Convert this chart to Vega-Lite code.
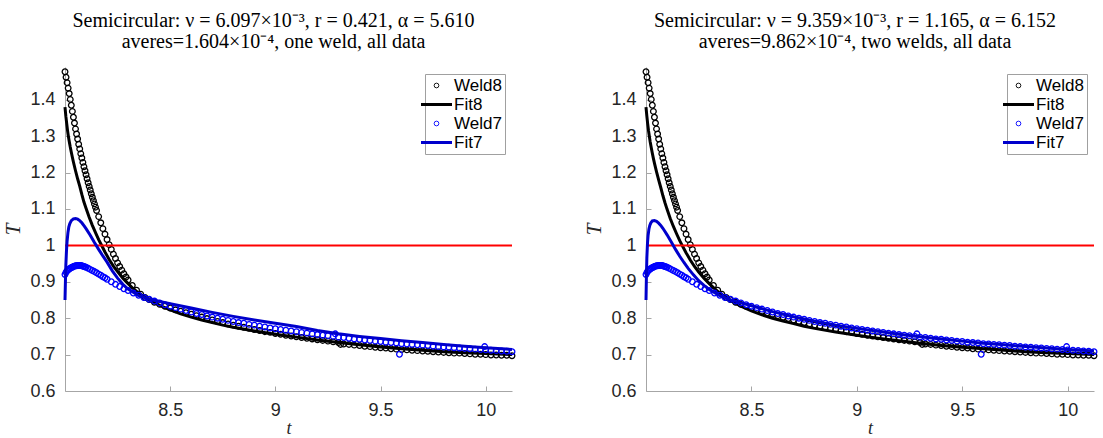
{
"$schema": "https://vega.github.io/schema/vega-lite/v6.json",
"padding": {"left": 2, "top": 11, "right": 0, "bottom": 0},
"spacing": 65,
"datasets": {
"weld": [
{"series":"Weld8","t":8.000,"T":1.477},{"series":"Weld8","t":8.005,"T":1.462},{"series":"Weld8","t":8.010,"T":1.447},{"series":"Weld8","t":8.015,"T":1.432},{"series":"Weld8","t":8.020,"T":1.417},{"series":"Weld8","t":8.025,"T":1.401},{"series":"Weld8","t":8.030,"T":1.385},{"series":"Weld8","t":8.035,"T":1.368},{"series":"Weld8","t":8.040,"T":1.352},{"series":"Weld8","t":8.045,"T":1.336},{"series":"Weld8","t":8.050,"T":1.320},{"series":"Weld8","t":8.055,"T":1.306},{"series":"Weld8","t":8.060,"T":1.292},{"series":"Weld8","t":8.065,"T":1.278},{"series":"Weld8","t":8.070,"T":1.265},{"series":"Weld8","t":8.075,"T":1.252},{"series":"Weld8","t":8.080,"T":1.240},{"series":"Weld8","t":8.085,"T":1.228},{"series":"Weld8","t":8.090,"T":1.216},{"series":"Weld8","t":8.095,"T":1.205},{"series":"Weld8","t":8.100,"T":1.194},{"series":"Weld8","t":8.105,"T":1.183},{"series":"Weld8","t":8.110,"T":1.172},{"series":"Weld8","t":8.115,"T":1.162},{"series":"Weld8","t":8.120,"T":1.152},{"series":"Weld8","t":8.125,"T":1.142},{"series":"Weld8","t":8.130,"T":1.132},{"series":"Weld8","t":8.135,"T":1.123},{"series":"Weld8","t":8.140,"T":1.114},{"series":"Weld8","t":8.145,"T":1.105},{"series":"Weld8","t":8.150,"T":1.096},{"series":"Weld8","t":8.160,"T":1.079},{"series":"Weld8","t":8.170,"T":1.062},{"series":"Weld8","t":8.180,"T":1.046},{"series":"Weld8","t":8.190,"T":1.031},{"series":"Weld8","t":8.200,"T":1.016},{"series":"Weld8","t":8.210,"T":1.002},{"series":"Weld8","t":8.220,"T":0.989},{"series":"Weld8","t":8.230,"T":0.976},{"series":"Weld8","t":8.240,"T":0.964},{"series":"Weld8","t":8.250,"T":0.952},{"series":"Weld8","t":8.260,"T":0.942},{"series":"Weld8","t":8.270,"T":0.932},{"series":"Weld8","t":8.280,"T":0.922},{"series":"Weld8","t":8.290,"T":0.913},{"series":"Weld8","t":8.300,"T":0.905},{"series":"Weld8","t":8.320,"T":0.890},{"series":"Weld8","t":8.340,"T":0.877},{"series":"Weld8","t":8.360,"T":0.866},{"series":"Weld8","t":8.380,"T":0.857},{"series":"Weld8","t":8.400,"T":0.851},{"series":"Weld8","t":8.425,"T":0.844},{"series":"Weld8","t":8.450,"T":0.838},{"series":"Weld8","t":8.475,"T":0.833},{"series":"Weld8","t":8.500,"T":0.828},{"series":"Weld8","t":8.525,"T":0.823},{"series":"Weld8","t":8.550,"T":0.819},{"series":"Weld8","t":8.575,"T":0.815},{"series":"Weld8","t":8.600,"T":0.811},{"series":"Weld8","t":8.625,"T":0.807},{"series":"Weld8","t":8.650,"T":0.803},{"series":"Weld8","t":8.675,"T":0.799},{"series":"Weld8","t":8.700,"T":0.795},{"series":"Weld8","t":8.725,"T":0.791},{"series":"Weld8","t":8.750,"T":0.788},{"series":"Weld8","t":8.775,"T":0.784},{"series":"Weld8","t":8.800,"T":0.781},{"series":"Weld8","t":8.825,"T":0.778},{"series":"Weld8","t":8.850,"T":0.775},{"series":"Weld8","t":8.875,"T":0.772},{"series":"Weld8","t":8.900,"T":0.769},{"series":"Weld8","t":8.925,"T":0.766},{"series":"Weld8","t":8.950,"T":0.763},{"series":"Weld8","t":8.975,"T":0.761},{"series":"Weld8","t":9.000,"T":0.758},{"series":"Weld8","t":9.025,"T":0.756},{"series":"Weld8","t":9.050,"T":0.753},{"series":"Weld8","t":9.075,"T":0.751},{"series":"Weld8","t":9.100,"T":0.749},{"series":"Weld8","t":9.125,"T":0.747},{"series":"Weld8","t":9.150,"T":0.745},{"series":"Weld8","t":9.175,"T":0.743},{"series":"Weld8","t":9.200,"T":0.741},{"series":"Weld8","t":9.225,"T":0.739},{"series":"Weld8","t":9.250,"T":0.737},{"series":"Weld8","t":9.275,"T":0.735},{"series":"Weld8","t":9.300,"T":0.733},{"series":"Weld8","t":9.310,"T":0.728},{"series":"Weld8","t":9.325,"T":0.729},{"series":"Weld8","t":9.350,"T":0.728},{"series":"Weld8","t":9.375,"T":0.726},{"series":"Weld8","t":9.400,"T":0.725},{"series":"Weld8","t":9.425,"T":0.723},{"series":"Weld8","t":9.450,"T":0.722},{"series":"Weld8","t":9.475,"T":0.720},{"series":"Weld8","t":9.500,"T":0.719},{"series":"Weld8","t":9.525,"T":0.718},{"series":"Weld8","t":9.550,"T":0.716},{"series":"Weld8","t":9.575,"T":0.715},{"series":"Weld8","t":9.600,"T":0.714},{"series":"Weld8","t":9.625,"T":0.713},{"series":"Weld8","t":9.650,"T":0.712},{"series":"Weld8","t":9.675,"T":0.711},{"series":"Weld8","t":9.700,"T":0.710},{"series":"Weld8","t":9.725,"T":0.709},{"series":"Weld8","t":9.750,"T":0.708},{"series":"Weld8","t":9.775,"T":0.707},{"series":"Weld8","t":9.800,"T":0.706},{"series":"Weld8","t":9.825,"T":0.705},{"series":"Weld8","t":9.850,"T":0.704},{"series":"Weld8","t":9.875,"T":0.704},{"series":"Weld8","t":9.900,"T":0.703},{"series":"Weld8","t":9.925,"T":0.702},{"series":"Weld8","t":9.950,"T":0.701},{"series":"Weld8","t":9.975,"T":0.701},{"series":"Weld8","t":10.000,"T":0.700},{"series":"Weld8","t":10.025,"T":0.699},{"series":"Weld8","t":10.050,"T":0.699},{"series":"Weld8","t":10.075,"T":0.698},{"series":"Weld8","t":10.100,"T":0.698},{"series":"Weld8","t":10.125,"T":0.697},
{"series":"Weld7","t":8.000,"T":0.920},{"series":"Weld7","t":8.005,"T":0.926},{"series":"Weld7","t":8.010,"T":0.930},{"series":"Weld7","t":8.015,"T":0.933},{"series":"Weld7","t":8.020,"T":0.935},{"series":"Weld7","t":8.025,"T":0.937},{"series":"Weld7","t":8.030,"T":0.939},{"series":"Weld7","t":8.035,"T":0.940},{"series":"Weld7","t":8.040,"T":0.942},{"series":"Weld7","t":8.045,"T":0.943},{"series":"Weld7","t":8.050,"T":0.944},{"series":"Weld7","t":8.055,"T":0.944},{"series":"Weld7","t":8.060,"T":0.945},{"series":"Weld7","t":8.065,"T":0.945},{"series":"Weld7","t":8.070,"T":0.945},{"series":"Weld7","t":8.075,"T":0.945},{"series":"Weld7","t":8.080,"T":0.944},{"series":"Weld7","t":8.085,"T":0.943},{"series":"Weld7","t":8.090,"T":0.942},{"series":"Weld7","t":8.095,"T":0.941},{"series":"Weld7","t":8.100,"T":0.940},{"series":"Weld7","t":8.110,"T":0.937},{"series":"Weld7","t":8.120,"T":0.934},{"series":"Weld7","t":8.130,"T":0.931},{"series":"Weld7","t":8.140,"T":0.928},{"series":"Weld7","t":8.150,"T":0.925},{"series":"Weld7","t":8.160,"T":0.921},{"series":"Weld7","t":8.170,"T":0.918},{"series":"Weld7","t":8.180,"T":0.914},{"series":"Weld7","t":8.190,"T":0.911},{"series":"Weld7","t":8.200,"T":0.907},{"series":"Weld7","t":8.220,"T":0.900},{"series":"Weld7","t":8.240,"T":0.893},{"series":"Weld7","t":8.260,"T":0.887},{"series":"Weld7","t":8.280,"T":0.881},{"series":"Weld7","t":8.300,"T":0.876},{"series":"Weld7","t":8.325,"T":0.869},{"series":"Weld7","t":8.350,"T":0.863},{"series":"Weld7","t":8.375,"T":0.857},{"series":"Weld7","t":8.400,"T":0.852},{"series":"Weld7","t":8.425,"T":0.847},{"series":"Weld7","t":8.450,"T":0.842},{"series":"Weld7","t":8.475,"T":0.837},{"series":"Weld7","t":8.500,"T":0.833},{"series":"Weld7","t":8.525,"T":0.829},{"series":"Weld7","t":8.550,"T":0.825},{"series":"Weld7","t":8.575,"T":0.821},{"series":"Weld7","t":8.600,"T":0.817},{"series":"Weld7","t":8.625,"T":0.813},{"series":"Weld7","t":8.650,"T":0.810},{"series":"Weld7","t":8.675,"T":0.806},{"series":"Weld7","t":8.700,"T":0.803},{"series":"Weld7","t":8.725,"T":0.800},{"series":"Weld7","t":8.750,"T":0.797},{"series":"Weld7","t":8.775,"T":0.794},{"series":"Weld7","t":8.800,"T":0.791},{"series":"Weld7","t":8.825,"T":0.788},{"series":"Weld7","t":8.850,"T":0.786},{"series":"Weld7","t":8.875,"T":0.783},{"series":"Weld7","t":8.900,"T":0.781},{"series":"Weld7","t":8.925,"T":0.778},{"series":"Weld7","t":8.950,"T":0.776},{"series":"Weld7","t":8.975,"T":0.773},{"series":"Weld7","t":9.000,"T":0.771},{"series":"Weld7","t":9.025,"T":0.769},{"series":"Weld7","t":9.050,"T":0.767},{"series":"Weld7","t":9.075,"T":0.765},{"series":"Weld7","t":9.100,"T":0.763},{"series":"Weld7","t":9.125,"T":0.761},{"series":"Weld7","t":9.150,"T":0.759},{"series":"Weld7","t":9.175,"T":0.757},{"series":"Weld7","t":9.200,"T":0.755},{"series":"Weld7","t":9.225,"T":0.753},{"series":"Weld7","t":9.250,"T":0.752},{"series":"Weld7","t":9.275,"T":0.750},{"series":"Weld7","t":9.285,"T":0.757},{"series":"Weld7","t":9.300,"T":0.748},{"series":"Weld7","t":9.325,"T":0.747},{"series":"Weld7","t":9.350,"T":0.745},{"series":"Weld7","t":9.375,"T":0.743},{"series":"Weld7","t":9.400,"T":0.742},{"series":"Weld7","t":9.425,"T":0.740},{"series":"Weld7","t":9.450,"T":0.739},{"series":"Weld7","t":9.475,"T":0.737},{"series":"Weld7","t":9.500,"T":0.736},{"series":"Weld7","t":9.525,"T":0.734},{"series":"Weld7","t":9.550,"T":0.733},{"series":"Weld7","t":9.575,"T":0.732},{"series":"Weld7","t":9.590,"T":0.701},{"series":"Weld7","t":9.600,"T":0.730},{"series":"Weld7","t":9.625,"T":0.729},{"series":"Weld7","t":9.650,"T":0.728},{"series":"Weld7","t":9.675,"T":0.727},{"series":"Weld7","t":9.700,"T":0.726},{"series":"Weld7","t":9.725,"T":0.725},{"series":"Weld7","t":9.750,"T":0.723},{"series":"Weld7","t":9.775,"T":0.722},{"series":"Weld7","t":9.800,"T":0.721},{"series":"Weld7","t":9.825,"T":0.720},{"series":"Weld7","t":9.850,"T":0.719},{"series":"Weld7","t":9.875,"T":0.718},{"series":"Weld7","t":9.900,"T":0.717},{"series":"Weld7","t":9.925,"T":0.716},{"series":"Weld7","t":9.950,"T":0.715},{"series":"Weld7","t":9.975,"T":0.714},{"series":"Weld7","t":9.995,"T":0.722},{"series":"Weld7","t":10.000,"T":0.713},{"series":"Weld7","t":10.025,"T":0.712},{"series":"Weld7","t":10.050,"T":0.711},{"series":"Weld7","t":10.075,"T":0.710},{"series":"Weld7","t":10.100,"T":0.709},{"series":"Weld7","t":10.125,"T":0.708}
],
"fitL": [
{"series":"Fit8","t":8.000,"T":1.380},{"series":"Fit8","t":8.004,"T":1.355},{"series":"Fit8","t":8.008,"T":1.335},{"series":"Fit8","t":8.012,"T":1.316},{"series":"Fit8","t":8.016,"T":1.300},{"series":"Fit8","t":8.020,"T":1.286},{"series":"Fit8","t":8.025,"T":1.270},{"series":"Fit8","t":8.030,"T":1.256},{"series":"Fit8","t":8.035,"T":1.242},{"series":"Fit8","t":8.040,"T":1.229},{"series":"Fit8","t":8.050,"T":1.205},{"series":"Fit8","t":8.060,"T":1.183},{"series":"Fit8","t":8.070,"T":1.163},{"series":"Fit8","t":8.080,"T":1.140},{"series":"Fit8","t":8.090,"T":1.119},{"series":"Fit8","t":8.100,"T":1.102},{"series":"Fit8","t":8.115,"T":1.077},{"series":"Fit8","t":8.130,"T":1.055},{"series":"Fit8","t":8.145,"T":1.035},{"series":"Fit8","t":8.160,"T":1.016},{"series":"Fit8","t":8.175,"T":0.999},{"series":"Fit8","t":8.190,"T":0.982},{"series":"Fit8","t":8.210,"T":0.961},{"series":"Fit8","t":8.230,"T":0.943},{"series":"Fit8","t":8.250,"T":0.928},{"series":"Fit8","t":8.275,"T":0.910},{"series":"Fit8","t":8.300,"T":0.895},{"series":"Fit8","t":8.325,"T":0.881},{"series":"Fit8","t":8.350,"T":0.869},{"series":"Fit8","t":8.400,"T":0.850},{"series":"Fit8","t":8.450,"T":0.835},{"series":"Fit8","t":8.500,"T":0.823},{"series":"Fit8","t":8.550,"T":0.812},{"series":"Fit8","t":8.600,"T":0.803},{"series":"Fit8","t":8.650,"T":0.795},{"series":"Fit8","t":8.700,"T":0.788},{"series":"Fit8","t":8.750,"T":0.781},{"series":"Fit8","t":8.800,"T":0.775},{"series":"Fit8","t":8.900,"T":0.765},{"series":"Fit8","t":9.000,"T":0.756},{"series":"Fit8","t":9.100,"T":0.748},{"series":"Fit8","t":9.200,"T":0.740},{"series":"Fit8","t":9.300,"T":0.733},{"series":"Fit8","t":9.400,"T":0.727},{"series":"Fit8","t":9.500,"T":0.721},{"series":"Fit8","t":9.600,"T":0.716},{"series":"Fit8","t":9.700,"T":0.712},{"series":"Fit8","t":9.800,"T":0.708},{"series":"Fit8","t":9.900,"T":0.705},{"series":"Fit8","t":10.000,"T":0.703},{"series":"Fit8","t":10.125,"T":0.700},
{"series":"Fit7","t":8.000,"T":0.850},{"series":"Fit7","t":8.002,"T":0.900},{"series":"Fit7","t":8.004,"T":0.945},{"series":"Fit7","t":8.007,"T":0.985},{"series":"Fit7","t":8.010,"T":1.012},{"series":"Fit7","t":8.014,"T":1.035},{"series":"Fit7","t":8.018,"T":1.050},{"series":"Fit7","t":8.023,"T":1.060},{"series":"Fit7","t":8.030,"T":1.068},{"series":"Fit7","t":8.040,"T":1.073},{"series":"Fit7","t":8.050,"T":1.074},{"series":"Fit7","t":8.060,"T":1.072},{"series":"Fit7","t":8.070,"T":1.068},{"series":"Fit7","t":8.080,"T":1.062},{"series":"Fit7","t":8.090,"T":1.054},{"series":"Fit7","t":8.100,"T":1.046},{"series":"Fit7","t":8.120,"T":1.028},{"series":"Fit7","t":8.140,"T":1.008},{"series":"Fit7","t":8.160,"T":0.989},{"series":"Fit7","t":8.180,"T":0.971},{"series":"Fit7","t":8.200,"T":0.954},{"series":"Fit7","t":8.225,"T":0.930},{"series":"Fit7","t":8.250,"T":0.910},{"series":"Fit7","t":8.275,"T":0.893},{"series":"Fit7","t":8.300,"T":0.880},{"series":"Fit7","t":8.350,"T":0.862},{"series":"Fit7","t":8.400,"T":0.852},{"series":"Fit7","t":8.450,"T":0.846},{"series":"Fit7","t":8.500,"T":0.840},{"series":"Fit7","t":8.600,"T":0.828},{"series":"Fit7","t":8.700,"T":0.816},{"series":"Fit7","t":8.800,"T":0.805},{"series":"Fit7","t":8.900,"T":0.795},{"series":"Fit7","t":9.000,"T":0.786},{"series":"Fit7","t":9.100,"T":0.777},{"series":"Fit7","t":9.200,"T":0.766},{"series":"Fit7","t":9.300,"T":0.757},{"series":"Fit7","t":9.400,"T":0.750},{"series":"Fit7","t":9.500,"T":0.744},{"series":"Fit7","t":9.600,"T":0.738},{"series":"Fit7","t":9.700,"T":0.733},{"series":"Fit7","t":9.800,"T":0.728},{"series":"Fit7","t":9.900,"T":0.723},{"series":"Fit7","t":10.000,"T":0.719},{"series":"Fit7","t":10.125,"T":0.714}
],
"fitR": [
{"series":"Fit8","t":8.000,"T":1.380},{"series":"Fit8","t":8.004,"T":1.355},{"series":"Fit8","t":8.008,"T":1.334},{"series":"Fit8","t":8.012,"T":1.315},{"series":"Fit8","t":8.016,"T":1.299},{"series":"Fit8","t":8.020,"T":1.284},{"series":"Fit8","t":8.025,"T":1.268},{"series":"Fit8","t":8.030,"T":1.253},{"series":"Fit8","t":8.035,"T":1.239},{"series":"Fit8","t":8.040,"T":1.226},{"series":"Fit8","t":8.050,"T":1.202},{"series":"Fit8","t":8.060,"T":1.180},{"series":"Fit8","t":8.070,"T":1.159},{"series":"Fit8","t":8.080,"T":1.137},{"series":"Fit8","t":8.090,"T":1.117},{"series":"Fit8","t":8.100,"T":1.099},{"series":"Fit8","t":8.115,"T":1.074},{"series":"Fit8","t":8.130,"T":1.052},{"series":"Fit8","t":8.145,"T":1.032},{"series":"Fit8","t":8.160,"T":1.013},{"series":"Fit8","t":8.175,"T":0.996},{"series":"Fit8","t":8.190,"T":0.980},{"series":"Fit8","t":8.210,"T":0.960},{"series":"Fit8","t":8.230,"T":0.942},{"series":"Fit8","t":8.250,"T":0.927},{"series":"Fit8","t":8.275,"T":0.910},{"series":"Fit8","t":8.300,"T":0.895},{"series":"Fit8","t":8.325,"T":0.881},{"series":"Fit8","t":8.350,"T":0.869},{"series":"Fit8","t":8.400,"T":0.849},{"series":"Fit8","t":8.450,"T":0.833},{"series":"Fit8","t":8.500,"T":0.820},{"series":"Fit8","t":8.550,"T":0.809},{"series":"Fit8","t":8.600,"T":0.800},{"series":"Fit8","t":8.650,"T":0.792},{"series":"Fit8","t":8.700,"T":0.785},{"series":"Fit8","t":8.750,"T":0.778},{"series":"Fit8","t":8.800,"T":0.772},{"series":"Fit8","t":8.900,"T":0.762},{"series":"Fit8","t":9.000,"T":0.753},{"series":"Fit8","t":9.100,"T":0.745},{"series":"Fit8","t":9.200,"T":0.738},{"series":"Fit8","t":9.300,"T":0.731},{"series":"Fit8","t":9.400,"T":0.725},{"series":"Fit8","t":9.500,"T":0.720},{"series":"Fit8","t":9.600,"T":0.716},{"series":"Fit8","t":9.700,"T":0.712},{"series":"Fit8","t":9.800,"T":0.708},{"series":"Fit8","t":9.900,"T":0.705},{"series":"Fit8","t":10.000,"T":0.703},{"series":"Fit8","t":10.125,"T":0.700},
{"series":"Fit7","t":8.000,"T":0.850},{"series":"Fit7","t":8.002,"T":0.915},{"series":"Fit7","t":8.004,"T":0.965},{"series":"Fit7","t":8.007,"T":1.005},{"series":"Fit7","t":8.010,"T":1.028},{"series":"Fit7","t":8.014,"T":1.045},{"series":"Fit7","t":8.018,"T":1.055},{"series":"Fit7","t":8.023,"T":1.062},{"series":"Fit7","t":8.030,"T":1.067},{"series":"Fit7","t":8.040,"T":1.068},{"series":"Fit7","t":8.050,"T":1.066},{"series":"Fit7","t":8.060,"T":1.061},{"series":"Fit7","t":8.070,"T":1.055},{"series":"Fit7","t":8.080,"T":1.047},{"series":"Fit7","t":8.090,"T":1.038},{"series":"Fit7","t":8.100,"T":1.029},{"series":"Fit7","t":8.120,"T":1.009},{"series":"Fit7","t":8.140,"T":0.989},{"series":"Fit7","t":8.160,"T":0.970},{"series":"Fit7","t":8.180,"T":0.953},{"series":"Fit7","t":8.200,"T":0.937},{"series":"Fit7","t":8.225,"T":0.919},{"series":"Fit7","t":8.250,"T":0.903},{"series":"Fit7","t":8.275,"T":0.890},{"series":"Fit7","t":8.300,"T":0.879},{"series":"Fit7","t":8.350,"T":0.862},{"series":"Fit7","t":8.400,"T":0.851},{"series":"Fit7","t":8.450,"T":0.842},{"series":"Fit7","t":8.500,"T":0.834},{"series":"Fit7","t":8.600,"T":0.818},{"series":"Fit7","t":8.700,"T":0.804},{"series":"Fit7","t":8.800,"T":0.792},{"series":"Fit7","t":8.900,"T":0.781},{"series":"Fit7","t":9.000,"T":0.772},{"series":"Fit7","t":9.100,"T":0.764},{"series":"Fit7","t":9.200,"T":0.756},{"series":"Fit7","t":9.300,"T":0.749},{"series":"Fit7","t":9.400,"T":0.743},{"series":"Fit7","t":9.500,"T":0.737},{"series":"Fit7","t":9.600,"T":0.731},{"series":"Fit7","t":9.700,"T":0.727},{"series":"Fit7","t":9.800,"T":0.722},{"series":"Fit7","t":9.900,"T":0.718},{"series":"Fit7","t":10.000,"T":0.714},{"series":"Fit7","t":10.125,"T":0.710}
]
},
"hconcat": [
{
"width": 447, "height": 324,
"title": {"text": ["Semicircular: ν = 6.097×10⁻³, r = 0.421, α = 5.610", "averes=1.604×10⁻⁴, one weld, all data"], "frame": "group", "dx": -15},
"encoding": {"color": {"field": "series", "type": "nominal",
  "scale": {"domain": ["Weld8", "Fit8", "Weld7", "Fit7"], "range": ["#000000", "#000000", "#0000ff", "#0000cc"]},
  "legend": {"title": null, "orient": "top-right", "offset": 7, "labelFont": "Liberation Sans", "labelFontSize": 17, "labelColor": "#000000", "symbolSize": 400, "labelOffset": 9, "padding": 3, "rowPadding": 1, "strokeColor": "#a0a0a0", "fillColor": "#ffffff",
   "encode": {"symbols": {"update": {
     "shape": {"signal": "datum.value == 'Weld8' || datum.value == 'Weld7' ? 'circle' : 'M-1.55,0H1.55'"},
     "size": {"signal": "datum.value == 'Weld8' || datum.value == 'Weld7' ? 22 : 400"},
     "strokeWidth": {"signal": "datum.value == 'Weld8' || datum.value == 'Weld7' ? 0.9 : 3"},
     "stroke": {"signal": "datum.value == 'Weld8' ? '#555555' : datum.value == 'Fit8' ? '#000000' : datum.value == 'Weld7' ? '#4a4aff' : '#0000cc'"},
     "fill": {"value": "transparent"}, "opacity": {"value": 1}}}}}}},
"layer": [
 {"data": {"name": "weld"}, "transform": [{"filter": "datum.series == 'Weld8'"}],
  "mark": {"type": "point", "shape": "circle", "filled": false, "size": 32, "strokeWidth": 1.3, "opacity": 1},
  "encoding": {"x": {"field": "t", "type": "quantitative", "title": "t", "scale": {"domain": [8.0, 10.125], "nice": false, "zero": false}, "axis": {"values": [8.5, 9, 9.5, 10], "format": "~g"}},
   "y": {"field": "T", "type": "quantitative", "title": "T", "scale": {"domain": [0.6, 1.49], "nice": false, "zero": false}, "axis": {"values": [0.6, 0.7, 0.8, 0.9, 1, 1.1, 1.2, 1.3, 1.4], "format": "~g"}}}},
 {"data": {"name": "fitL"}, "transform": [{"filter": "datum.series == 'Fit8'"}],
  "mark": {"type": "line", "strokeWidth": 3},
  "encoding": {"x": {"field": "t", "type": "quantitative"}, "y": {"field": "T", "type": "quantitative"}}},
 {"data": {"values": [{}]}, "mark": {"type": "rule", "strokeWidth": 2},
  "encoding": {"y": {"datum": 1}, "color": {"value": "#ff0000"}}},
 {"data": {"name": "weld"}, "transform": [{"filter": "datum.series == 'Weld7'"}],
  "mark": {"type": "point", "shape": "circle", "filled": false, "size": 32, "strokeWidth": 1.3, "opacity": 1},
  "encoding": {"x": {"field": "t", "type": "quantitative"}, "y": {"field": "T", "type": "quantitative"}}},
 {"data": {"name": "fitL"}, "transform": [{"filter": "datum.series == 'Fit7'"}],
  "mark": {"type": "line", "strokeWidth": 3},
  "encoding": {"x": {"field": "t", "type": "quantitative"}, "y": {"field": "T", "type": "quantitative"}}}
]
},
{
"width": 448, "height": 324,
"title": {"text": ["Semicircular: ν = 9.359×10⁻³, r = 1.165, α = 6.152", "averes=9.862×10⁻⁴, two welds, all data"], "frame": "group", "dx": -15},
"encoding": {"color": {"field": "series", "type": "nominal",
  "scale": {"domain": ["Weld8", "Fit8", "Weld7", "Fit7"], "range": ["#000000", "#000000", "#0000ff", "#0000cc"]},
  "legend": {"title": null, "orient": "top-right", "offset": 7, "labelFont": "Liberation Sans", "labelFontSize": 17, "labelColor": "#000000", "symbolSize": 400, "labelOffset": 9, "padding": 3, "rowPadding": 1, "strokeColor": "#a0a0a0", "fillColor": "#ffffff",
   "encode": {"symbols": {"update": {
     "shape": {"signal": "datum.value == 'Weld8' || datum.value == 'Weld7' ? 'circle' : 'M-1.55,0H1.55'"},
     "size": {"signal": "datum.value == 'Weld8' || datum.value == 'Weld7' ? 22 : 400"},
     "strokeWidth": {"signal": "datum.value == 'Weld8' || datum.value == 'Weld7' ? 0.9 : 3"},
     "stroke": {"signal": "datum.value == 'Weld8' ? '#555555' : datum.value == 'Fit8' ? '#000000' : datum.value == 'Weld7' ? '#4a4aff' : '#0000cc'"},
     "fill": {"value": "transparent"}, "opacity": {"value": 1}}}}}}},
"layer": [
 {"data": {"name": "weld"}, "transform": [{"filter": "datum.series == 'Weld8'"}],
  "mark": {"type": "point", "shape": "circle", "filled": false, "size": 32, "strokeWidth": 1.3, "opacity": 1},
  "encoding": {"x": {"field": "t", "type": "quantitative", "title": "t", "scale": {"domain": [8.0, 10.125], "nice": false, "zero": false}, "axis": {"values": [8.5, 9, 9.5, 10], "format": "~g"}},
   "y": {"field": "T", "type": "quantitative", "title": "T", "scale": {"domain": [0.6, 1.49], "nice": false, "zero": false}, "axis": {"values": [0.6, 0.7, 0.8, 0.9, 1, 1.1, 1.2, 1.3, 1.4], "format": "~g"}}}},
 {"data": {"name": "fitR"}, "transform": [{"filter": "datum.series == 'Fit8'"}],
  "mark": {"type": "line", "strokeWidth": 3},
  "encoding": {"x": {"field": "t", "type": "quantitative"}, "y": {"field": "T", "type": "quantitative"}}},
 {"data": {"values": [{}]}, "mark": {"type": "rule", "strokeWidth": 2},
  "encoding": {"y": {"datum": 1}, "color": {"value": "#ff0000"}}},
 {"data": {"name": "weld"}, "transform": [{"filter": "datum.series == 'Weld7'"}],
  "mark": {"type": "point", "shape": "circle", "filled": false, "size": 32, "strokeWidth": 1.3, "opacity": 1},
  "encoding": {"x": {"field": "t", "type": "quantitative"}, "y": {"field": "T", "type": "quantitative"}}},
 {"data": {"name": "fitR"}, "transform": [{"filter": "datum.series == 'Fit7'"}],
  "mark": {"type": "line", "strokeWidth": 3},
  "encoding": {"x": {"field": "t", "type": "quantitative"}, "y": {"field": "T", "type": "quantitative"}}}
]
}
],
"resolve": {"scale": {"color": "independent"}},
"config": {
 "background": "#ffffff",
 "view": {"stroke": null},
 "title": {"font": "Liberation Serif", "fontSize": 20, "fontWeight": "normal", "color": "#000000", "lineHeight": 21, "offset": 14, "anchor": "middle"},
 "axis": {"grid": false, "domainColor": "#a6a6a6", "tickColor": "#a6a6a6", "tickSize": -5, "labelColor": "#262626", "labelFont": "Liberation Sans", "labelFontSize": 18, "labelPadding": 15, "titleFont": "Liberation Serif", "titleFontStyle": "italic", "titleFontWeight": "normal", "titleFontSize": 21, "titleColor": "#262626"},
 "axisY": {"titlePadding": 6},
 "axisX": {"titlePadding": 0, "titleFontSize": 18}
}
}
